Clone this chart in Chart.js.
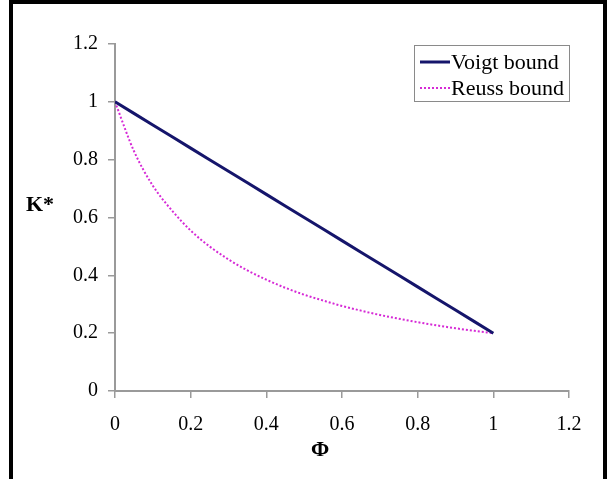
<!DOCTYPE html>
<html>
<head>
<meta charset="utf-8">
<script src="https://cdn.jsdelivr.net/npm/chart.js@4/dist/chart.umd.min.js"></script>
<style>
  html, body { margin: 0; padding: 0; background: #fff; }
  #wrap { position: relative; width: 607px; height: 479px; overflow: hidden; }
  #frame { position: absolute; left: 9px; top: 0px; width: 598px; height: 490px;
           border: 4px solid #000; box-sizing: border-box; pointer-events: none; }
  canvas { position: absolute; left: 0; top: 0; }
</style>
</head>
<body>
<div id="wrap">
  <canvas id="c" width="607" height="479"></canvas>
  <div id="frame"></div>
</div>
<script>
// ---- data ----
const phi = [0, 0.05, 0.1, 0.15, 0.2, 0.25, 0.3, 0.35, 0.4, 0.45, 0.5,
             0.55, 0.6, 0.65, 0.7, 0.75, 0.8, 0.85, 0.9, 0.95, 1];
const voigt = [1, 0.96, 0.92, 0.88, 0.84, 0.8, 0.76, 0.72, 0.68, 0.64, 0.6,
               0.56, 0.52, 0.48, 0.44, 0.4, 0.36, 0.32, 0.28, 0.24, 0.2];
const reuss = [1, 0.83, 0.71, 0.625, 0.555, 0.5, 0.455, 0.417, 0.385, 0.357, 0.333,
               0.313, 0.294, 0.278, 0.263, 0.25, 0.238, 0.227, 0.217, 0.208, 0.2];
const seriesNames = ['Voigt bound', 'Reuss bound'];
const xTicks = [0, 0.2, 0.4, 0.6, 0.8, 1, 1.2];
const yTicks = [0, 0.2, 0.4, 0.6, 0.8, 1, 1.2];
const xTitle = 'Φ';
const yTitle = 'K*';

const SERIF = '"Liberation Serif", "Times New Roman", serif';
const AXIS_GRAY = '#9a9a9a';
const VOIGT_COLOR = '#15156b';
const REUSS_COLOR = '#d62ad6';

const toPts = (xs, ys) => xs.map((x, i) => ({ x: x, y: ys[i] }));

const overlay = {
  id: 'overlay',
  afterDraw(chart) {
    const ctx = chart.ctx;
    ctx.save();
    // axis titles
    ctx.fillStyle = '#000';
    ctx.font = 'bold 22px ' + SERIF;
    ctx.textAlign = 'center';
    ctx.textBaseline = 'middle';
    ctx.fillText(yTitle, 40, 205);
    ctx.fillText(xTitle, 320, 450);
    // legend box
    const bx = 414, by = 45, bw = 155, bh = 56;
    ctx.fillStyle = '#fff';
    ctx.fillRect(bx, by, bw, bh);
    ctx.strokeStyle = '#8a8a8a';
    ctx.lineWidth = 1;
    ctx.strokeRect(bx + 0.5, by + 0.5, bw, bh);
    const ds = chart.data.datasets;
    const rows = [62, 88];
    ds.forEach((d, i) => {
      const y = rows[i];
      ctx.beginPath();
      ctx.strokeStyle = d.borderColor;
      ctx.lineWidth = d.borderWidth;
      ctx.setLineDash(d.borderDash || []);
      ctx.moveTo(420, y);
      ctx.lineTo(450, y);
      ctx.stroke();
      ctx.setLineDash([]);
      ctx.fillStyle = '#000';
      ctx.font = '22px ' + SERIF;
      ctx.textAlign = 'left';
      ctx.textBaseline = 'middle';
      ctx.fillText(d.label, 451, y + 1);
    });
    ctx.restore();
  }
};

const axisCommon = (ticksArr) => ({
  type: 'linear',
  min: ticksArr[0],
  max: ticksArr[ticksArr.length - 1],
  afterBuildTicks: (s) => { s.ticks = ticksArr.map(v => ({ value: v })); },
  ticks: {
    color: '#000',
    font: { family: SERIF, size: 20 },
    callback: (v) => String(v),
    autoSkip: false,
    maxRotation: 0,
    minRotation: 0
  },
  grid: {
    display: true,
    drawOnChartArea: false,
    drawTicks: true,
    tickLength: 7,
    color: AXIS_GRAY,
    lineWidth: 1.5
  },
  border: { display: true, color: AXIS_GRAY, width: 2 },
  title: { display: false }
});

const xAxis = axisCommon(xTicks);
xAxis.ticks.padding = 15;
xAxis.afterFit = (s) => { s.height = 479 - 391; };
const yAxis = axisCommon(yTicks);
yAxis.ticks.padding = 10;
yAxis.afterFit = (s) => { s.width = 115; };

new Chart(document.getElementById('c'), {
  type: 'scatter',
  data: {
    datasets: [
      {
        label: seriesNames[0],
        data: toPts(phi, voigt),
        showLine: true,
        borderColor: VOIGT_COLOR,
        backgroundColor: VOIGT_COLOR,
        borderWidth: 3,
        pointRadius: 0,
        tension: 0
      },
      {
        label: seriesNames[1],
        data: toPts(phi, reuss),
        showLine: true,
        borderColor: REUSS_COLOR,
        backgroundColor: REUSS_COLOR,
        borderWidth: 2,
        borderDash: [2, 2],
        pointRadius: 0,
        cubicInterpolationMode: 'monotone'
      }
    ]
  },
  options: {
    responsive: false,
    animation: false,
    layout: { padding: { left: 0, top: 44, right: 38, bottom: 0 } },
    plugins: { legend: { display: false }, tooltip: { enabled: false } },
    scales: { x: xAxis, y: yAxis }
  },
  plugins: [overlay]
});
</script>
</body>
</html>
